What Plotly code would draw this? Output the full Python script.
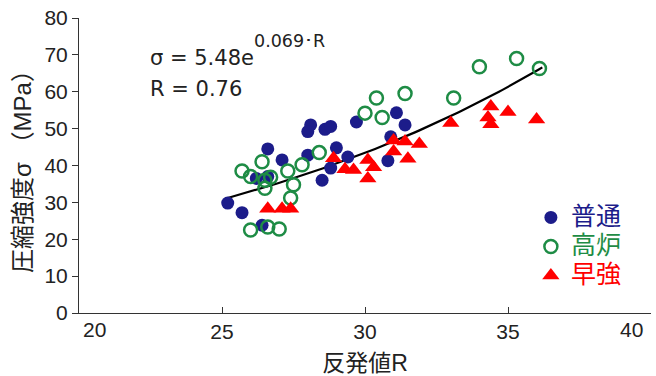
import numpy as np
import plotly.graph_objects as go

# 普通 (ordinary)
futsu_R = [25.2, 25.7, 26.4, 26.2, 26.6, 26.6, 27.1, 28.0, 28.1, 28.0, 28.6, 28.8, 29.7,
           29.0, 29.4, 28.8, 28.5, 31.1, 31.4, 30.9, 30.8]
futsu_s = [29.8, 27.2, 23.8, 36.5, 37.0, 44.5, 41.5, 42.8, 51.0, 49.2, 49.8, 50.6, 51.8,
           44.8, 42.3, 39.3, 36.0, 54.3, 51.0, 47.8, 41.3]
# 高炉 (blast furnace)
koro_R = [25.7, 26.0, 26.4, 26.5, 26.7, 26.0, 26.6, 27.0, 27.3, 27.8, 27.5, 27.4, 26.5,
          28.4, 30.0, 30.4, 30.6, 31.4, 33.1, 34.0, 35.3, 36.1]
koro_s = [38.5, 37.0, 41.0, 36.0, 36.8, 22.5, 23.3, 22.8, 38.5, 40.2, 34.8, 31.2, 33.8,
          43.5, 54.2, 58.3, 53.0, 59.5, 58.3, 66.8, 69.0, 66.3]
# 早強 (high-early-strength)
sokyo_R = [26.6, 27.1, 27.4, 28.9, 29.3, 29.6, 30.1, 30.3, 30.1, 31.0, 31.0, 31.4, 31.9,
           31.5, 33.0, 34.4, 34.3, 34.4, 35.0, 36.0]
sokyo_s = [28.3, 28.3, 28.3, 42.0, 39.0, 38.8, 41.5, 39.5, 36.5, 43.8, 46.8, 46.5, 45.8,
           41.8, 51.5, 56.0, 53.0, 51.2, 54.5, 52.5]

# Fitted curve σ = a·e^(b·R)
fit_a, fit_b = 5.48, 0.069
fit_R_min, fit_R_max = 25.2, 36.2

x_ticks = [20, 25, 30, 35, 40]
x_ticktext = ["", "25", "30", "35", ""]   # end labels drawn inset below
y_ticks = [0, 10, 20, 30, 40, 50, 60, 70, 80]

BLUE = "#1c1c8a"
GREEN = "#1e8c45"
RED = "#ff0000"
TXT = "#222222"
FONT = "Liberation Sans, Noto Sans CJK JP, sans-serif"
EQFONT = "DejaVu Sans, sans-serif"

fit_R = np.linspace(fit_R_min, fit_R_max, 80)
fit_s = fit_a * np.exp(fit_b * fit_R)


def legend_name(label, color):
    return f'<span style="color:{color};font-size:25px">{label}</span>'


fig = go.Figure()
fig.add_trace(go.Scatter(x=fit_R, y=fit_s, mode="lines", line=dict(color="black", width=2.2),
                         showlegend=False, hoverinfo="skip"))
fig.add_trace(go.Scatter(x=futsu_R, y=futsu_s, mode="markers",
                         name=legend_name("普通", BLUE),
                         marker=dict(symbol="circle", size=13, color=BLUE)))
fig.add_trace(go.Scatter(x=koro_R, y=koro_s, mode="markers",
                         name=legend_name("高炉", GREEN),
                         marker=dict(symbol="circle-open", size=13, color=GREEN,
                                     line=dict(width=2.5, color=GREEN))))
fig.add_trace(go.Scatter(x=sokyo_R, y=sokyo_s, mode="markers",
                         name=legend_name("早強", RED),
                         marker=dict(symbol="triangle-up", size=15, color=RED)))

# regression equation
fig.add_annotation(x=0.12, y=0.864, xref="paper", yref="paper", xanchor="left", yanchor="middle",
                   text="σ = 5.48e", showarrow=False,
                   font=dict(size=21, color=TXT, family=EQFONT))
fig.add_annotation(x=0.302, y=0.922, xref="paper", yref="paper", xanchor="left", yanchor="middle",
                   text="0.069･R", showarrow=False,
                   font=dict(size=17.5, color=TXT, family=EQFONT))
fig.add_annotation(x=0.12, y=0.759, xref="paper", yref="paper", xanchor="left", yanchor="middle",
                   text="R = 0.76", showarrow=False,
                   font=dict(size=21, color=TXT, family=EQFONT))

# end tick labels of x axis (inset so they fit)
fig.add_annotation(x=x_ticks[0], y=0, xref="x", yref="paper", xanchor="left", yanchor="top",
                   xshift=2, yshift=-3, text=str(x_ticks[0]), showarrow=False,
                   font=dict(size=21, color=TXT, family=FONT))
fig.add_annotation(x=x_ticks[-1], y=0, xref="x", yref="paper", xanchor="right", yanchor="top",
                   xshift=-6, yshift=-3, text=str(x_ticks[-1]), showarrow=False,
                   font=dict(size=21, color=TXT, family=FONT))

fig.update_layout(
    width=656, height=376,
    margin=dict(l=79, r=5, t=18, b=63),
    paper_bgcolor="white", plot_bgcolor="white",
    font=dict(family=FONT, size=21, color=TXT),
    legend=dict(x=0.79, y=0.39, xanchor="left", yanchor="top",
                font=dict(size=20, family=FONT), bgcolor="rgba(0,0,0,0)",
                itemwidth=30, tracegroupgap=0),
    xaxis=dict(range=[20, 40], tickvals=x_ticks, ticktext=x_ticktext,
               ticks="inside", ticklen=6,
               showline=True, linecolor="#333", linewidth=1, tickcolor="#333",
               showgrid=False, zeroline=False,
               title=dict(text="反発値R", font=dict(size=23), standoff=12)),
    yaxis=dict(range=[0, 80], tickvals=y_ticks, ticks="outside", ticklen=6,
               showline=True, linecolor="#333", linewidth=1, tickcolor="#333",
               showgrid=False, zeroline=False,
               title=dict(text="圧縮強度σ （MPa）", font=dict(size=24), standoff=6)),
)

fig.write_html("out.html")
